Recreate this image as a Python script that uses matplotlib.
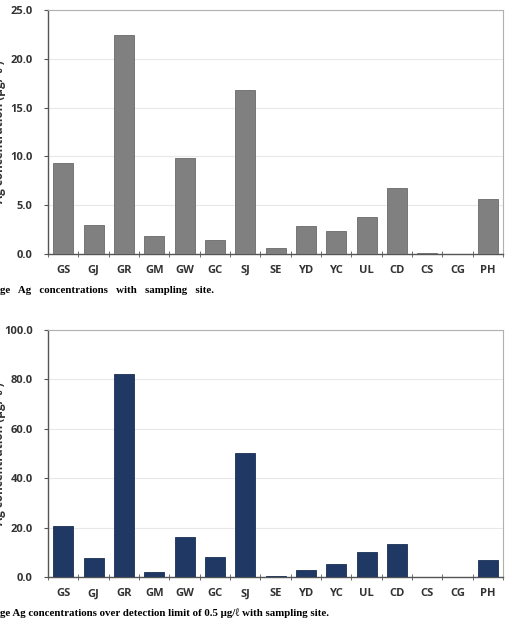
import matplotlib.pyplot as plt
import numpy as np

sites = ["GS", "GJ", "GR", "GM", "GW", "GC", "SJ", "SE",
         "YD", "YC", "UL", "CD", "CS", "CG", "PH"]
avg_all = [9.3, 3.0, 22.4, 1.8, 9.8, 1.4, 16.8, 0.6,
           2.9, 2.4, 3.8, 6.8, 0.15, 0.0, 5.6]
avg_over_dl = [20.9, 7.9, 82.1, 2.3, 16.3, 8.2, 50.1, 0.5,
               2.8, 5.5, 10.4, 13.3, 0.0, 0.0, 7.1]

caption_top = "ge   Ag   concentrations   with   sampling   site."
caption_bottom = "ge Ag concentrations over detection limit of 0.5 \u00b5g/\u2113 with sampling site."
ylabel = "Ag concentration (\u00b5g/ \u2113 )"

plt.rcParams["font.family"] = ["Open Sans", "DejaVu Sans"]

fig = plt.figure(figsize=(5.08, 6.23), dpi=100)


def draw(ax, values, color, edge, ymax, step):
    x = np.arange(len(sites))
    ax.bar(x, values, width=0.66, color=color, edgecolor=edge, linewidth=0.6, zorder=3)
    ax.set_xlim(-0.5, len(sites) - 0.5)
    ax.set_ylim(0, ymax)
    ticks = np.arange(0, ymax + step / 2, step)
    ax.set_yticks(ticks)
    ax.set_yticklabels([f"{v:.1f}" for v in ticks],
                       fontsize=8, fontweight="bold", color="#333333")
    ax.set_xticks(x)
    ax.set_xticklabels(sites, fontsize=8, fontweight="bold", color="#333333")
    ax.set_xticks(np.arange(-0.5, len(sites), 1), minor=True)
    ax.tick_params(axis="x", which="major", length=0, pad=8)
    ax.tick_params(axis="x", which="minor", length=4, direction="inout", color="#555555")
    ax.tick_params(axis="y", length=3, color="#555555", pad=8)
    ax.grid(axis="y", color="#e8e8e8", linewidth=0.8, zorder=0)
    for side in ["top", "right"]:
        ax.spines[side].set_color("#b0b0b0")
    for side in ["left", "bottom"]:
        ax.spines[side].set_color("#555555")
        ax.spines[side].set_linewidth(1.0)
    # the reference crops the axis title at the left edge
    ax.set_ylabel(ylabel, fontsize=8.5, fontweight="bold", color="#333333")
    ax.yaxis.set_label_coords(-0.092, 0.5)


ax1 = fig.add_axes([0.0945, 0.5923, 0.896, 0.3917])
draw(ax1, avg_all, "#808080", "#6a6a6a", 25, 5)

ax2 = fig.add_axes([0.0945, 0.0734, 0.896, 0.3969])
draw(ax2, avg_over_dl, "#1f3864", "#1a2f55", 100, 20)

fig.text(0.0, 0.534, caption_top, fontsize=7.8, fontweight="bold",
         family=["Liberation Serif", "DejaVu Serif"], va="center", ha="left")
fig.text(0.0, 0.016, caption_bottom, fontsize=7.8, fontweight="bold",
         family=["Liberation Serif", "DejaVu Serif"], va="center", ha="left")

fig.savefig("out.png", dpi=100)
